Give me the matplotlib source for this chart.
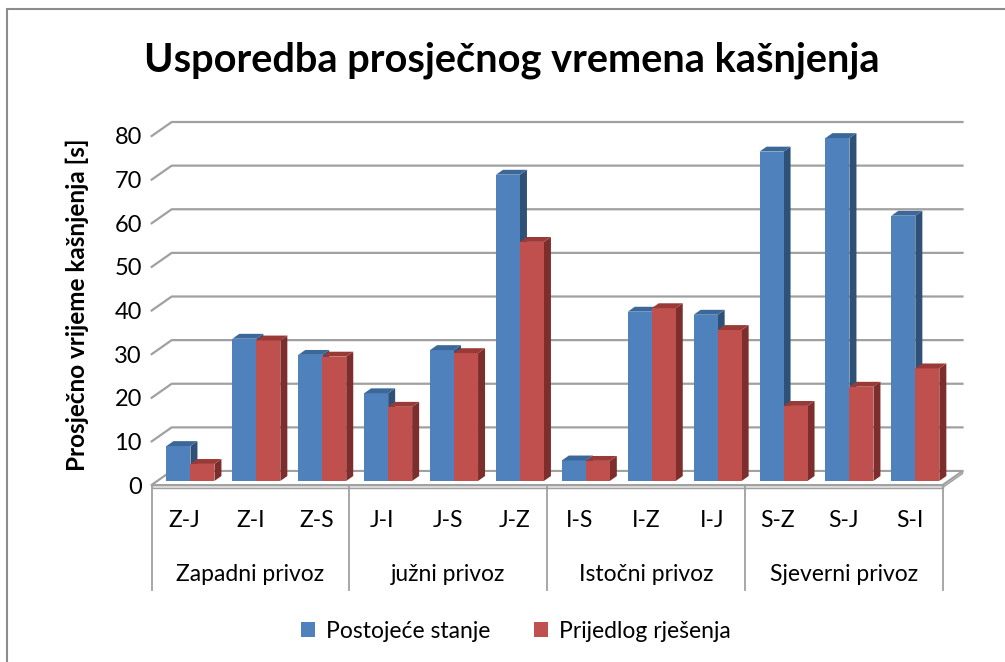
import numpy as np
import matplotlib.pyplot as plt
from matplotlib.patches import Polygon, Rectangle

plt.rcParams['font.family'] = ['Lato', 'DejaVu Sans']

#---------------------------------Podaci------------------------------
kategorije = ['Z-J', 'Z-I', 'Z-S', 'J-I', 'J-S', 'J-Z', 'I-S', 'I-Z', 'I-J', 'S-Z', 'S-J', 'S-I']
grupe = ['Zapadni privoz', 'južni privoz', 'Istočni privoz', 'Sjeverni privoz']
postojece = [8.0, 32.6, 28.9, 20.1, 30.0, 70.2, 4.7, 38.8, 38.1, 75.5, 78.6, 60.8]
prijedlog = [3.9, 32.2, 28.5, 17.0, 29.3, 54.8, 4.6, 39.6, 34.6, 17.2, 21.6, 25.8]
serije = ['Postojeće stanje', 'Prijedlog rješenja']
yticks = [0, 10, 20, 30, 40, 50, 60, 70, 80]

plava, plava_bok, plava_vrh = '#4F81BD', '#2F5077', '#3C6899'
crvena, crvena_bok, crvena_vrh = '#C0504D', '#7D2E2C', '#9A3A37'
siva = '#A0A0A0'

#---------------------------------Geometrija------------------------------
W, H = 1005, 662
fig = plt.figure(figsize=(W/100, H/100), dpi=100)
ax = fig.add_axes([151.7/W, (H-485)/H, 790.8/W, 349/H])
ax.set_xlim(0, 12)
ax.set_ylim(0, 80)
for s in ax.spines.values():
    s.set_visible(False)

DX = 20/65.9     # dubina u x smjeru
DY = 14/4.3625   # dubina u y smjeru
f0 = 0.29        # pocetak stupca po dubini
bd = 0.35        # dubina stupca
sirina = 0.364

# zidovi i mreza
for v in yticks:
    ax.plot([0, DX, 12+DX], [v, v+DY, v+DY], color=siva, lw=1.6, clip_on=False, zorder=1)

# pod
ax.add_patch(Polygon([(0, 0), (12, 0), (12, -0.6), (0, -0.6)], fc='#E6E6E6', ec=siva, lw=1.0, clip_on=False, zorder=2))
ax.add_patch(Polygon([(12, 0), (12+DX, DY), (12+DX, DY-0.6), (12, -0.6)], fc='#D6D6D6', ec=siva, lw=1.0, clip_on=False, zorder=2))
ax.add_patch(Polygon([(0, 0), (12, 0), (12+DX, DY), (DX, DY)], fc='white', ec=siva, lw=1.4, clip_on=False, zorder=2))


def stupac(x0, x1, v, boja, bok, vrh):
    y0 = f0*DY
    y1 = y0 + v
    ox0 = x0 + f0*DX
    ox1 = x1 + f0*DX
    dx, dy = bd*DX, bd*DY
    ax.add_patch(Polygon([(ox1, y0), (ox1+dx, y0+dy), (ox1+dx, y1+dy), (ox1, y1)], fc=bok, ec='none', clip_on=False, zorder=3))
    ax.add_patch(Polygon([(ox0, y0), (ox1, y0), (ox1, y1), (ox0, y1)], fc=boja, ec='none', clip_on=False, zorder=3))
    ax.add_patch(Polygon([(ox0, y1), (ox1, y1), (ox1+dx, y1+dy), (ox0+dx, y1+dy)], fc=vrh, ec='none', clip_on=False, zorder=3))


for i in range(len(kategorije)):
    c = i + 0.5
    stupac(c - sirina, c, postojece[i], plava, plava_bok, plava_vrh)
    stupac(c, c + sirina, prijedlog[i], crvena, crvena_bok, crvena_vrh)

# osi
ax.set_yticks(yticks)
ax.tick_params(axis='y', length=0, pad=7, labelsize=17)
ax.set_xticks(np.arange(12) + 0.5, kategorije)
ax.tick_params(axis='x', length=0, pad=18, labelsize=16.5)

for g in range(5):
    ax.plot([3*g, 3*g], [0, -24], color=siva, lw=1.3, clip_on=False)
for g in range(4):
    ax.text(3*g + 1.5, -20.6, grupe[g], ha='center', va='center', fontsize=16.5)

#---------------------------------Tekst------------------------------
fig.text(512/W, (H-60)/H, 'Usporedba prosječnog vremena kašnjenja', ha='center', va='center',
         fontsize=28.6, fontweight='bold')
fig.text(77/W, (H-305)/H, 'Prosječno vrijeme kašnjenja [s]', ha='center', va='center',
         rotation=90, fontsize=17.5, fontweight='bold')

ruke = [Rectangle((0, 0), 1, 1, fc=plava), Rectangle((0, 0), 1, 1, fc=crvena)]
fig.legend(handles=ruke, labels=serije, loc='center', bbox_to_anchor=(516/W, (H-631)/H), ncol=2,
           frameon=False, fontsize=16.5, handlelength=0.6, handleheight=0.6,
           handletextpad=0.5, columnspacing=1.9)

fig.add_artist(Rectangle((7/W, -0.1), 1.2, (H-9)/H + 0.1, transform=fig.transFigure,
                         fill=False, ec='#8C8C8C', lw=1.5))

fig.savefig('out.png', dpi=100)
